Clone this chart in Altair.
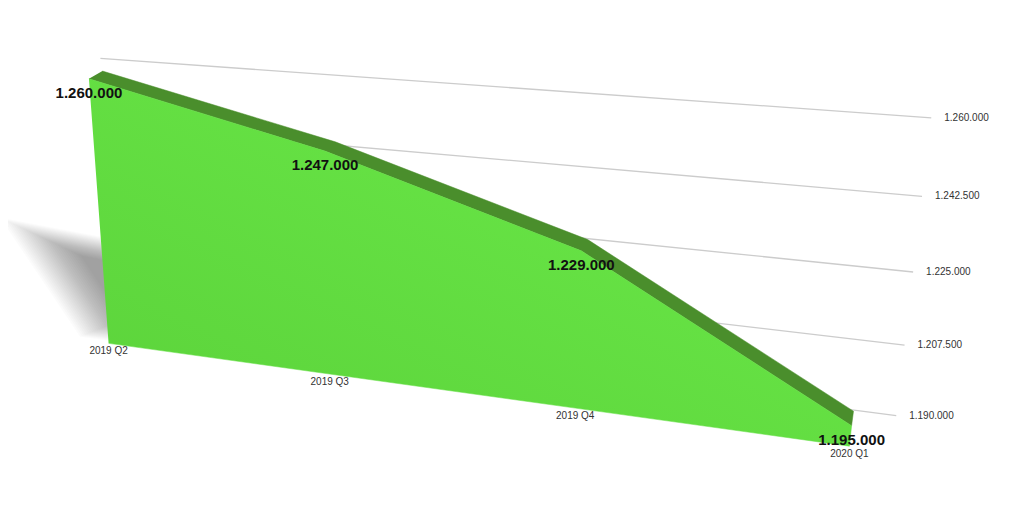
import pandas as pd
import altair as alt

quarters = ["2019 Q2", "2019 Q3", "2019 Q4", "2020 Q1"]
values = [1260000, 1247000, 1229000, 1195000]
tick_values = [1190000, 1207500, 1225000, 1242500, 1260000]

# ---- view (3D camera) settings ----
W, H = 1008, 497
CAM = [
    [205.124596, -6.12687829, 14.0670181, 100.599219],
    [12.4983575, -67.2010578, -6.33546116, 335.346991],
    [-0.0496923648, -0.0149902696, 0.0147368476, 1.0],
]
DEPTH = 1.0        # thickness of the area
WALL_Z = 2.5       # depth of the back wall with the gridlines
WALL_X = (-0.1, 3.15)

base = tick_values[0]
step = tick_values[1] - tick_values[0]


def fmt(v):
    return f"{v:,.0f}".replace(",", ".")


def Yof(v):
    return (v - base) / step


def e(x):
    return f"{float(x):.9g}"


def proj_xy(X, Y, Z):
    def row(r):
        c = CAM[r]
        return f"({e(c[0])}*({X})+{e(c[1])}*({Y})+{e(c[2])}*({Z})+{e(c[3])})"
    return f"{row(0)}/{row(2)}", f"{row(1)}/{row(2)}"


xs = alt.Scale(domain=[0, W], nice=False, zero=False)
ys = alt.Scale(domain=[0, H], nice=False, zero=False, reverse=True)

# ---- polygons (world coordinates built from the data) ----
n = len(values)
rows = []
for i, val in enumerate(values):
    rows.append(dict(poly="face", ord=i, X=i, Y=Yof(val), Z=0))
for j, i in enumerate(range(n - 1, -1, -1)):
    rows.append(dict(poly="face", ord=n + j, X=i, Y=0.0, Z=0))
for i, val in enumerate(values):
    rows.append(dict(poly="band", ord=i, X=i, Y=Yof(val), Z=0))
for j, i in enumerate(range(n - 1, -1, -1)):
    rows.append(dict(poly="band", ord=n + j, X=i, Y=Yof(values[i]), Z=DEPTH))

# soft shadow of the first segment cast on the back wall (stack of faint layers)
seg = [(0, Yof(values[0])), (1, Yof(values[1])), (1, 0.0), (0, 0.0)]
sh = [(x - 0.2 - 0.07 * y, -0.3 + 0.36 * y) for x, y in seg]
cx = sum(p[0] for p in sh) / len(sh)
cy = sum(p[1] for p in sh) / len(sh)
LAYERS = 26
for k in range(LAYERS):
    f = 1.28 - 0.6 * k / (LAYERS - 1)
    for j, (x, y) in enumerate(sh):
        rows.append(dict(poly=f"shadow{k}", ord=j, X=cx + (x - cx) * f, Y=cy + (y - cy) * f, Z=WALL_Z))
poly_df = pd.DataFrame(rows)

px, py = proj_xy("datum.X", "datum.Y", "datum.Z")


def poly_layer(cond, **mk):
    return (
        alt.Chart(poly_df)
        .transform_filter(cond)
        .transform_calculate(sx=px, sy=py)
        .mark_line(**mk)
        .encode(
            x=alt.X("sx:Q", scale=xs, axis=None),
            y=alt.Y("sy:Q", scale=ys, axis=None),
            order=alt.Order("ord:Q"),
            detail="poly:N",
        )
    )


shadow = poly_layer("indexof(datum.poly, 'shadow') == 0", fill="#000000", fillOpacity=0.014,
                    strokeWidth=0, strokeOpacity=0)
face_grad = alt.Gradient(
    gradient="linear",
    stops=[alt.GradientStop(color="#5bd23a", offset=0), alt.GradientStop(color="#6ceb4a", offset=1)],
    x1=0, x2=1, y1=1, y2=0,
)
band = poly_layer("datum.poly == 'band'", fill="#4a8e2c", stroke="#4a8e2c", strokeWidth=0.5)
face = poly_layer("datum.poly == 'face'", fill=face_grad, stroke="#63de42", strokeWidth=0.5)

# ---- gridlines and value axis on the back wall ----
tick_df = pd.DataFrame({"Y": [Yof(t) for t in tick_values], "label": [fmt(t) for t in tick_values]})
gx1, gy1 = proj_xy(e(WALL_X[0]), "datum.Y", e(WALL_Z))
gx2, gy2 = proj_xy(e(WALL_X[1]), "datum.Y", e(WALL_Z))
grid = (
    alt.Chart(tick_df)
    .transform_calculate(x1=gx1, y1=gy1, x2=gx2, y2=gy2)
    .mark_rule(color="#cccccc", strokeWidth=1.3)
    .encode(
        x=alt.X("x1:Q", scale=xs, axis=None), y=alt.Y("y1:Q", scale=ys, axis=None),
        x2="x2:Q", y2="y2:Q",
    )
)
tick_text = (
    alt.Chart(tick_df)
    .transform_calculate(x2=gx2, y2=gy2)
    .mark_text(align="left", baseline="middle", dx=13, fontSize=10, font="Liberation Sans", color="#333333")
    .encode(x=alt.X("x2:Q", scale=xs, axis=None), y=alt.Y("y2:Q", scale=ys, axis=None), text="label:N")
)

# ---- labels ----
pt_df = pd.DataFrame({
    "X": list(range(n)), "Y": [Yof(v) for v in values], "quarter": quarters,
    "vlabel": [fmt(v) for v in values],
})
vx, vy = proj_xy("datum.X", "datum.Y", "0")
bx, by = proj_xy("datum.X", "0", "0")
val_text = (
    alt.Chart(pt_df)
    .transform_calculate(sx=vx, sy=vy)
    .mark_text(baseline="middle", dy=14, fontSize=15, fontWeight="bold", font="Liberation Sans", color="#111111")
    .encode(x=alt.X("sx:Q", scale=xs, axis=None), y=alt.Y("sy:Q", scale=ys, axis=None), text="vlabel:N")
)
cat_text = (
    alt.Chart(pt_df)
    .transform_calculate(sx=bx, sy=by)
    .mark_text(baseline="middle", dy=8, fontSize=10, font="Liberation Sans", color="#333333")
    .encode(x=alt.X("sx:Q", scale=xs, axis=None), y=alt.Y("sy:Q", scale=ys, axis=None), text="quarter:N")
)

chart = (
    alt.layer(grid, tick_text, shadow, band, face, val_text, cat_text)
    .properties(width=W, height=H, padding=0, autosize="none")
    .configure_view(stroke=None)
)
chart.save("out.html", embed_options={"renderer": "svg", "actions": False})
